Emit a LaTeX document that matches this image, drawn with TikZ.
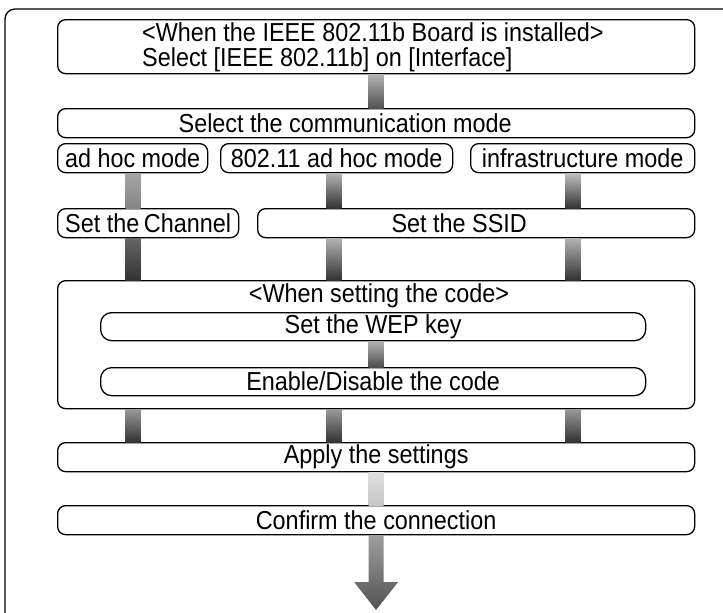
\documentclass[tikz,border=0pt]{standalone}
\usepackage{fontspec}
\setmainfont[FakeStretch=0.9]{Liberation Sans}
\usetikzlibrary{calc}
\newcommand\flowbar[5]{%
  \shade[top color=#4, bottom color=#5]
    ($(#1 |- #2.south)+(-7.5,0)$) rectangle ($(#1 |- #3.north)+(7.5,0)$);}
\begin{document}
\begin{tikzpicture}[x=1pt,y=-1pt,
  box/.style={draw, line width=1.3pt, rounded corners=8pt, fill=white,
    inner sep=0pt, anchor=north west, font=\fontsize{26}{23}\selectfont},
  pillbox/.style={box, rounded corners=11pt},
  lbl/.style={font=\fontsize{26}{23}\selectfont, inner sep=0pt}]
\useasboundingbox (0,0) rectangle (723,613);
\clip (0,0) rectangle (723,613);
\draw[line width=1.3pt, rounded corners=10pt] (5,9) rectangle (760,640);

\coordinate (colA) at (133,0);
\coordinate (colB) at (334,0);
\coordinate (colC) at (573,0);
\coordinate (colM) at (376,0);

\node[box, minimum width=637pt, minimum height=54pt] (top) at (57,19) {};
\node[lbl, anchor=base west] (topline1) at (142,41) {<When the IEEE 802.11b Board is installed>};
\node[lbl, anchor=base west] (topline2) at (142,66) {Select [IEEE 802.11b] on [Interface]};
\node[box, minimum width=637pt, minimum height=29pt] (mode) at (57,108) {};
\node[lbl] (modetext) at ($(mode.center)+(-31,0)$) {Select the communication mode};
\node[box, minimum width=150pt, minimum height=29pt] (adhoc) at (57,143) {ad hoc mode};
\node[box, minimum width=232pt, minimum height=29pt] (adhocb) at (220,143) {802.11 ad hoc mode};
\node[box, minimum width=224pt, minimum height=29pt] (infra) at (470,143) {infrastructure mode};
\node[box, minimum width=181pt, minimum height=29pt] (chan) at (57,208) {Set the\hspace{-2pt} Channel};
\node[box, minimum width=437pt, minimum height=29pt] (ssid) at (257,208) {};
\node[lbl] (ssidtext) at ($(ssid.center)+(-17,0)$) {Set the SSID};
\node[box, minimum width=637pt, minimum height=128pt] (code) at (57,280) {};
\node[lbl] (codetext) at (379,296) {<When setting the code>};
\node[pillbox, minimum width=545pt, minimum height=28pt] (wep) at (100,312) {Set the WEP key};
\node[pillbox, minimum width=545pt, minimum height=28pt] (enab) at (100,367) {Enable/Disable the code};
\node[box, minimum width=637pt, minimum height=29pt] (apply) at (57,442) {Apply the settings};
\node[box, minimum width=637pt, minimum height=29pt] (confirm) at (57,505) {Confirm the connection};

\flowbar{colM}{top}{mode}{black!30}{black!68}
\flowbar{colA}{adhoc}{chan}{black!35}{black!48}
\flowbar{colB}{adhocb}{ssid}{black!30}{black!80}
\flowbar{colC}{infra}{ssid}{black!25}{black!80}
\flowbar{colA}{chan}{code}{black!60}{black!80}
\flowbar{colB}{ssid}{code}{black!30}{black!80}
\flowbar{colC}{ssid}{code}{black!30}{black!80}
\flowbar{colM}{wep}{enab}{black!30}{black!70}
\flowbar{colA}{code}{apply}{black!40}{black!80}
\flowbar{colB}{code}{apply}{black!40}{black!80}
\flowbar{colC}{code}{apply}{black!40}{black!80}
\flowbar{colM}{apply}{confirm}{black!12}{black!22}

\coordinate (arrtip) at (376,610);
\shade[top color=black!38, bottom color=black!68]
  ($(confirm.south)+(-7.5,0)$) -- ($(confirm.south |- 0,582)+(-7.5,0)$)
  -- ($(confirm.south |- 0,582)+(-22,0)$) -- (arrtip)
  -- ($(confirm.south |- 0,582)+(22,0)$) -- ($(confirm.south |- 0,582)+(7.5,0)$)
  -- ($(confirm.south)+(7.5,0)$) -- cycle;
\end{tikzpicture}
\end{document}
